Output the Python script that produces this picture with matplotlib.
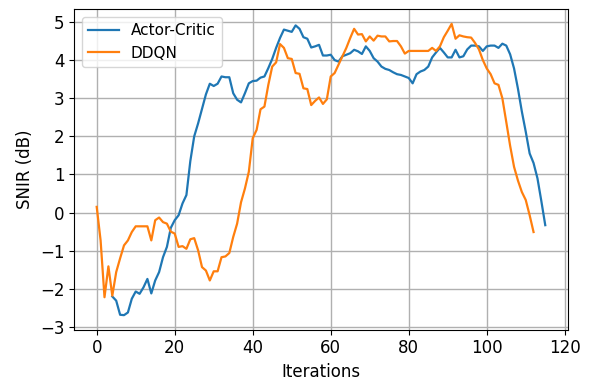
import numpy as np
import matplotlib.pyplot as plt

# SNIR per iteration, Actor-Critic run starts at iteration 4
ac_start = 4
ac_snir = [-2.2, -2.31, -2.68, -2.69, -2.62, -2.26, -2.07, -2.13, -1.96, -1.74,
           -2.12, -1.78, -1.56, -1.17, -0.9, -0.4, -0.2, -0.07, 0.24, 0.46,
           1.35, 2.0, 2.34, 2.72, 3.1, 3.38, 3.32, 3.38, 3.57, 3.55,
           3.55, 3.13, 2.96, 2.89, 3.13, 3.39, 3.45, 3.46, 3.54, 3.57,
           3.79, 4.03, 4.32, 4.58, 4.8, 4.77, 4.74, 4.91, 4.82, 4.6,
           4.56, 4.33, 4.36, 4.4, 4.12, 4.12, 4.14, 4.0, 3.96, 4.1,
           4.14, 4.18, 4.27, 4.23, 4.16, 4.36, 4.24, 4.05, 3.96, 3.83,
           3.77, 3.74, 3.68, 3.63, 3.61, 3.57, 3.53, 3.39, 3.63, 3.7,
           3.74, 3.83, 4.07, 4.2, 4.32, 4.2, 4.07, 4.07, 4.27, 4.07,
           4.1, 4.28, 4.38, 4.38, 4.36, 4.24, 4.36, 4.38, 4.38, 4.32,
           4.43, 4.38, 4.15, 3.78, 3.25, 2.65, 2.12, 1.55, 1.3, 0.9,
           0.3, -0.33]

ddqn_snir = [0.15, -0.73, -2.22, -1.41, -2.18, -1.56, -1.2, -0.86, -0.73, -0.51,
             -0.36, -0.36, -0.36, -0.36, -0.73, -0.2, -0.13, -0.25, -0.29, -0.5,
             -0.55, -0.9, -0.88, -0.95, -0.7, -0.67, -0.99, -1.43, -1.52, -1.78,
             -1.54, -1.54, -1.17, -1.15, -1.06, -0.64, -0.29, 0.27, 0.63, 1.07,
             1.95, 2.17, 2.71, 2.78, 3.35, 3.83, 3.94, 4.42, 4.32, 4.05,
             4.03, 3.66, 3.64, 3.26, 3.24, 2.82, 2.93, 3.02, 2.85, 2.97,
             3.57, 3.66, 3.88, 4.1, 4.32, 4.58, 4.82, 4.67, 4.68, 4.49,
             4.62, 4.51, 4.64, 4.62, 4.62, 4.49, 4.5, 4.5, 4.36, 4.17,
             4.24, 4.24, 4.24, 4.24, 4.24, 4.24, 4.32, 4.24, 4.36, 4.6,
             4.77, 4.95, 4.56, 4.65, 4.62, 4.6, 4.59, 4.45, 4.28, 4.0,
             3.78, 3.63, 3.39, 3.35, 3.0, 2.38, 1.75, 1.2, 0.84, 0.54,
             0.33, -0.07, -0.51]

ac_iter = np.arange(ac_start, ac_start + len(ac_snir))
ddqn_iter = np.arange(len(ddqn_snir))

fig = plt.figure(figsize=(5.98, 3.81), dpi=100)
ax = fig.add_axes([0.1242, 0.1346, 0.8251, 0.841])
ax.plot(ac_iter, ac_snir, label="Actor-Critic", linewidth=1.6)
ax.plot(ddqn_iter, ddqn_snir, label="DDQN", linewidth=1.6)
ax.set_xlabel("Iterations", fontsize=12)
ax.set_ylabel("SNIR (dB)", fontsize=12)
ax.set_xticks(np.arange(0, 121, 20))
ax.set_yticks(np.arange(-3, 6, 1))
ax.tick_params(labelsize=12)
ax.grid(True, color="#b0b0b0", linewidth=1.0)
ax.legend(loc="upper left", fontsize=11)
fig.savefig("out.png", dpi=100)
